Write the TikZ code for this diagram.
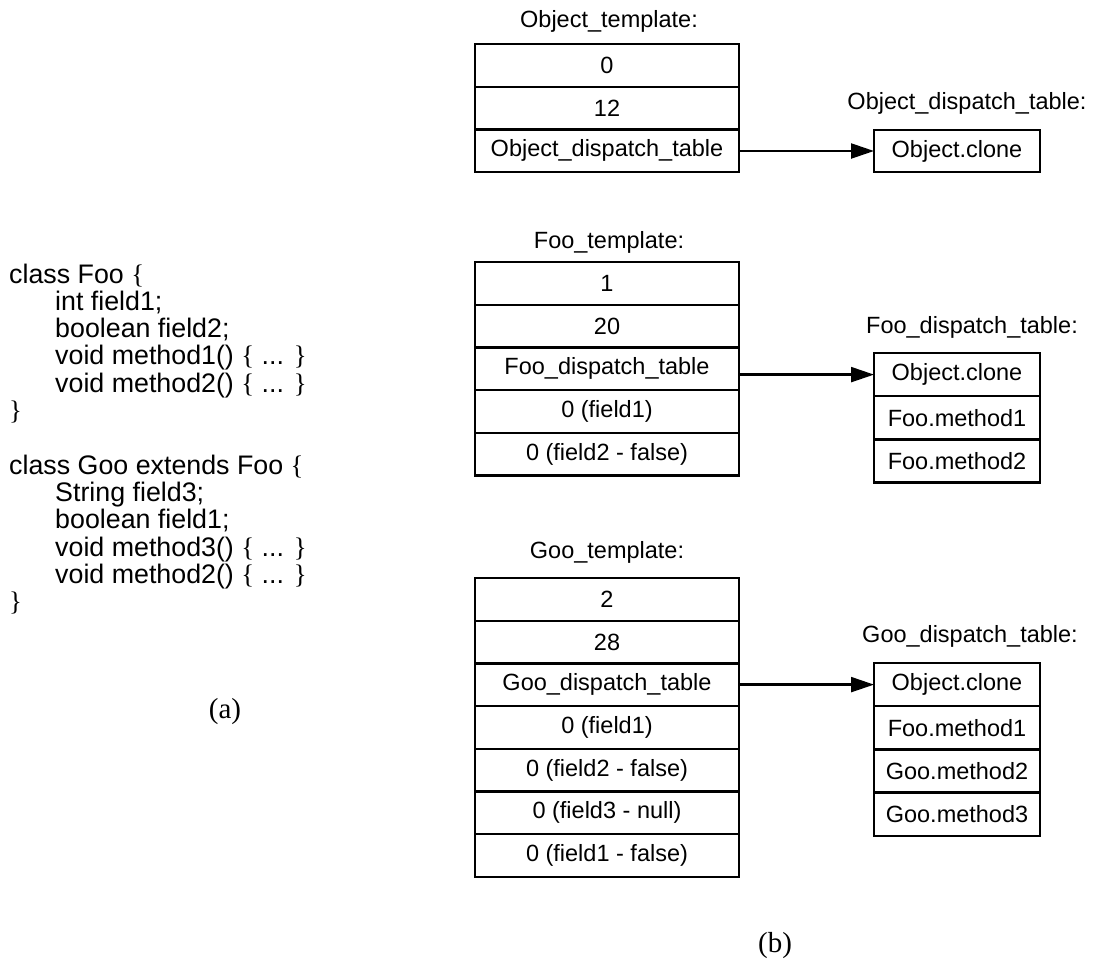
\documentclass[tikz,border=0pt]{standalone}
\usepackage{fontspec}
\setmainfont{Liberation Sans}
\newfontfamily\tms{Liberation Serif}
\usetikzlibrary{arrows.meta}
\begin{document}
\begin{tikzpicture}[x=1pt,y=-1pt,
  cell/.style={draw, line width=2.3pt, outer sep=0pt, inner sep=0pt, minimum width=264pt, minimum height=42.7pt, anchor=north, font=\fontsize{23.5}{28}\selectfont},
  dcell/.style={cell, minimum width=166pt, minimum height=43.2pt},
  lbl/.style={anchor=base, inner sep=0pt, font=\fontsize{23.5}{28}\selectfont},
  codeline/.style={anchor=base west, inner sep=0pt, font=\fontsize{26.8}{29}\selectfont},
  caption/.style={anchor=base, inner sep=0pt, font=\tms\fontsize{29}{32}\selectfont},
  arr/.style={line width=2.3pt, -{Triangle[length=23pt,width=15pt]}}
]
\useasboundingbox (0,0) rectangle (1095,959);

% code (a)
\node[codeline] (c0) at (9,283) {class Foo {\tms\{}};
\node[codeline] (c1) at (55,310.3) {int field1;};
\node[codeline] (c2) at (55,337.6) {boolean field2;};
\node[codeline] (c3) at (55,364.9) {void method1() {\tms\{} ... {\tms\}}};
\node[codeline] (c4) at (55,392.2) {void method2() {\tms\{} ... {\tms\}}};
\node[codeline] (c5) at (9,419.5) {{\tms\}}};
\node[codeline] (c7) at (9,474.1) {class Goo extends Foo {\tms\{}};
\node[codeline] (c8) at (55,501.4) {String field3;};
\node[codeline] (c9) at (55,528.7) {boolean field1;};
\node[codeline] (c10) at (55,556) {void method3() {\tms\{} ... {\tms\}}};
\node[codeline] (c11) at (55,583.3) {void method2() {\tms\{} ... {\tms\}}};
\node[codeline] (c12) at (9,610.6) {{\tms\}}};
\node[caption] (capa) at (225,718) {(a)};

% Object
\node[lbl] (oTl) at (609,27) {Object\_template:};
\node[cell] (oT1) at (607,44) {0};
\node[cell] (oT2) at (oT1.south) {12};
\node[cell] (oT3) at (oT2.south) {Object\_dispatch\_table};
\node[lbl] (oDl) at (967,109) {Object\_dispatch\_table:};
\node[dcell, minimum height=42pt] (oD1) at (957,130) {Object.clone};
\draw[arr] (oT3.east |- oD1.west) -- (oD1.west);

% Foo
\node[lbl] (fTl) at (609,248) {Foo\_template:};
\node[cell] (fT1) at (607,262) {1};
\node[cell] (fT2) at (fT1.south) {20};
\node[cell] (fT3) at (fT2.south) {Foo\_dispatch\_table};
\node[cell] (fT4) at (fT3.south) {0 (field1)};
\node[cell] (fT5) at (fT4.south) {0 (field2 - false)};
\node[lbl] (fDl) at (972,333) {Foo\_dispatch\_table:};
\node[dcell] (fD1) at (957,353) {Object.clone};
\node[dcell] (fD2) at (fD1.south) {Foo.method1};
\node[dcell] (fD3) at (fD2.south) {Foo.method2};
\draw[arr] (fT3.east |- fD1.west) -- (fD1.west);

% Goo
\node[lbl] (gTl) at (607,558) {Goo\_template:};
\node[cell] (gT1) at (607,578) {2};
\node[cell] (gT2) at (gT1.south) {28};
\node[cell] (gT3) at (gT2.south) {Goo\_dispatch\_table};
\node[cell] (gT4) at (gT3.south) {0 (field1)};
\node[cell] (gT5) at (gT4.south) {0 (field2 - false)};
\node[cell] (gT6) at (gT5.south) {0 (field3 - null)};
\node[cell] (gT7) at (gT6.south) {0 (field1 - false)};
\node[lbl] (gDl) at (970,642) {Goo\_dispatch\_table:};
\node[dcell] (gD1) at (957,663) {Object.clone};
\node[dcell] (gD2) at (gD1.south) {Foo.method1};
\node[dcell] (gD3) at (gD2.south) {Goo.method2};
\node[dcell] (gD4) at (gD3.south) {Goo.method3};
\draw[arr] (gT3.east |- gD1.west) -- (gD1.west);

\node[caption] (capb) at (775,952) {(b)};
\end{tikzpicture}
\end{document}
